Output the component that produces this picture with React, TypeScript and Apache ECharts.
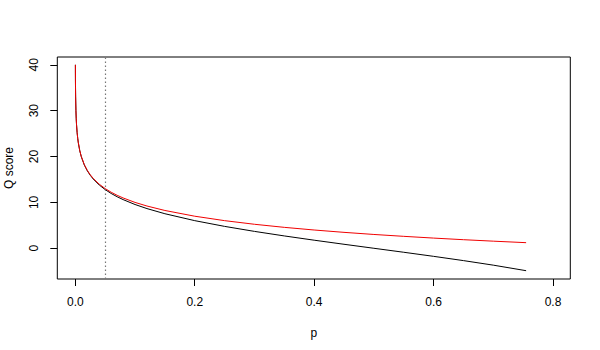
import React, { useEffect, useRef } from "react";
import * as echarts from "echarts";

// p values sampled along the curves
const pValues = [
  0.0001, 0.0002, 0.0003, 0.0005, 0.001, 0.0015, 0.002, 0.003, 0.004, 0.005,
  0.0075, 0.01, 0.015, 0.02, 0.025, 0.03, 0.04, 0.05, 0.06, 0.07, 0.08, 0.1,
  0.12, 0.15, 0.2, 0.25, 0.3, 0.35, 0.4, 0.45, 0.5, 0.55, 0.6, 0.65, 0.7, 0.755,
];
// black curve (Q score)
const blackQ = [
  40.0, 36.99, 35.23, 33.01, 30.0, 28.23, 26.98, 25.22, 23.96, 22.99,
  21.22, 19.96, 18.17, 16.9, 15.91, 15.1, 13.8, 12.79, 11.95, 11.23, 10.61, 9.54,
  8.65, 7.53, 6.02, 4.77, 3.68, 2.69, 1.76, 0.87, 0.0, -0.87, -1.76, -2.69, -3.68, -4.89,
];
// red curve (Q score)
const redQ = [
  40.0, 36.99, 35.23, 33.01, 30.0, 28.24, 26.99, 25.23, 23.98, 23.01,
  21.25, 20.0, 18.24, 16.99, 16.02, 15.23, 13.98, 13.01, 12.22, 11.55, 10.97, 10.0,
  9.21, 8.24, 6.99, 6.02, 5.23, 4.56, 3.98, 3.47, 3.01, 2.6, 2.22, 1.87, 1.55, 1.22,
];
const xTicks = [0, 0.2, 0.4, 0.6, 0.8];
const yTicks = [0, 10, 20, 30, 40];
const cutoffP = [0.05];

const FONT = "Liberation Sans, Arial, Helvetica, sans-serif";

export default function App() {
  const ref = useRef<HTMLDivElement>(null);
  useEffect(() => {
    if (!ref.current) return;
    const chart = echarts.init(ref.current, undefined, { renderer: "svg" });
    chart.setOption({
      animation: false,
      backgroundColor: "#fff",
      grid: {
        show: true,
        left: 57.3,
        right: 29.7,
        top: 57,
        bottom: 71,
        containLabel: false,
        outerBoundsMode: "none",
        borderColor: "#000",
        borderWidth: 1,
        backgroundColor: "transparent",
      },
      xAxis: {
        type: "value",
        min: -0.0302,
        max: 0.829,
        name: "p",
        nameLocation: "middle",
        nameGap: 48,
        nameTextStyle: { fontFamily: FONT, fontSize: 12, color: "#000" },
        axisLine: { show: false, onZero: false },
        splitLine: { show: false },
        axisTick: {
          show: true,
          length: 7,
          customValues: xTicks,
          lineStyle: { color: "#000" },
        },
        axisLabel: {
          customValues: xTicks,
          margin: 17,
          fontFamily: FONT,
          fontSize: 12,
          color: "#000",
          formatter: (v: number) => v.toFixed(1),
        },
      },
      yAxis: {
        type: "value",
        min: -6.7,
        max: 41.7,
        name: "Q score",
        nameLocation: "middle",
        nameGap: 42,
        nameRotate: 90,
        nameTextStyle: { fontFamily: FONT, fontSize: 12, color: "#000" },
        axisLine: { show: false, onZero: false },
        splitLine: { show: false },
        axisTick: {
          show: true,
          length: 7,
          customValues: yTicks,
          lineStyle: { color: "#000" },
        },
        axisLabel: {
          customValues: yTicks,
          rotate: 90,
          margin: 17,
          fontFamily: FONT,
          fontSize: 12,
          color: "#000",
        },
      },
      series: [
        {
          type: "line",
          data: pValues.map((p, i) => [p, blackQ[i]]),
          showSymbol: false,
          lineStyle: { color: "#000", width: 1 },
          markLine: {
            silent: true,
            symbol: ["none", "none"],
            label: { show: false },
            lineStyle: { color: "#777", width: 1.2, type: [1.5, 2.5] },
            data: cutoffP.map((p) => ({ xAxis: p })),
          },
        },
        {
          type: "line",
          data: pValues.map((p, i) => [p, redQ[i]]),
          showSymbol: false,
          lineStyle: { color: "#f00000", width: 1 },
        },
      ],
    });
    return () => chart.dispose();
  }, []);
  return (
    <div
      ref={ref}
      style={{ position: "fixed", left: 0, top: 0, width: 600, height: 350 }}
    />
  );
}
